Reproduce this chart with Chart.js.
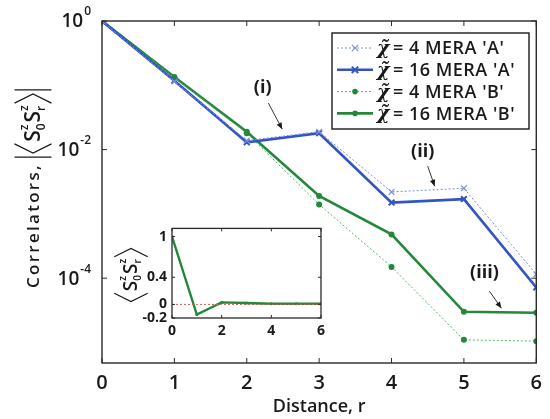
<!DOCTYPE html>
<html><head><meta charset="utf-8">
<script src="https://cdn.jsdelivr.net/npm/chart.js@4"></script>
<style>
html,body{margin:0;padding:0;background:#fff;}
#wrap{position:relative;width:550px;height:419px;}
#main{position:absolute;left:0;top:0;}
#inset{position:absolute;left:110px;top:215px;}
</style></head><body>
<div id="wrap"><canvas id="main" width="550" height="419"></canvas><canvas id="inset" width="220" height="130"></canvas></div>
<script>
// ---- data ----
const distances = [0, 1, 2, 3, 4, 5, 6];
const chi4A  = [1, 0.115, 0.0138, 0.0190, 0.0022, 0.0025, 0.000115];
const chi16A = [1, 0.118, 0.0130, 0.0180, 0.0015, 0.0017, 0.000072];
const chi4B  = [1, 0.130, 0.0180, 0.0014, 0.00015, 0.000011, 0.0000105];
const chi16B = [1, 0.135, 0.0190, 0.0019, 0.00048, 0.000030, 0.000029];
const seriesLabels = ["4 MERA 'A'", "16 MERA 'A'", "4 MERA 'B'", "16 MERA 'B'"];
const yTickValues = [1, 1e-2, 1e-4];
const yTickExponents = ['0', '-2', '-4'];
const xTickValues = [0, 1, 2, 3, 4, 5, 6];
const insetX = [0, 1, 2, 3, 4, 5, 6];
const insetY = [1, -0.15, 0.03, 0.02, 0.01, 0.01, 0.01];
const insetZero = [0, 0, 0, 0, 0, 0, 0];
const insetYTicks = [-0.2, 0, 0.4, 1];
const insetXTicks = [0, 2, 4, 6];
const annotationLabels = ['(i)', '(ii)', '(iii)'];
const annotationText = [[2.22, 0.091], [4.431, 0.0092], [5.284, 1.2e-4]];
const annotationArrowFrom = [[2.298, 0.053], [4.50, 0.00553], [5.353, 6.28e-5]];
const annotationArrowTo = [[2.49, 0.0208], [4.596, 0.0027], [5.518, 3.41e-5]];

const FONT = "'Open Sans', 'DejaVu Sans', sans-serif";
const BLUE = '#3453c4', BLUE_L = '#7d90e0', GREEN = '#23883b', GREEN_L = '#5cb46c';
const INK = '#1a1a1a';

function pts(xs, ys) { return xs.map((x, i) => ({x: x, y: ys[i]})); }

// draw <S0z Srz> group horizontally (in rotated frame), returns width
function drawSS(ctx, u, size, bars, measureOnly) {
  const sF = '600 ' + size + 'px ' + FONT;
  const scF = '600 ' + Math.round(size * 0.55) + 'px ' + FONT;
  const h = size * 0.88;
  const bw = h * 0.5;
  let x = u;
  ctx.save();
  ctx.strokeStyle = INK; ctx.fillStyle = INK; ctx.lineWidth = 1.2;
  if (bars) { if (!measureOnly) { ctx.beginPath(); ctx.moveTo(x, -h); ctx.lineTo(x, h); ctx.stroke(); } x += 4; }
  if (!measureOnly) { ctx.beginPath(); ctx.moveTo(x + bw, -h); ctx.lineTo(x, 0); ctx.lineTo(x + bw, h); ctx.stroke(); }
  x += bw + 2;
  const parts = [['0', 'z'], ['r', 'z']];
  ctx.textBaseline = 'middle'; ctx.textAlign = 'left';
  for (const p of parts) {
    ctx.font = sF;
    if (!measureOnly) ctx.fillText('S', x, 1);
    x += ctx.measureText('S').width;
    ctx.font = scF;
    if (!measureOnly) { ctx.fillText(p[1], x, -size * 0.4); ctx.fillText(p[0], x, size * 0.4); }
    x += Math.max(ctx.measureText(p[0]).width, ctx.measureText(p[1]).width) + 1;
  }
  x += 1;
  if (!measureOnly) { ctx.beginPath(); ctx.moveTo(x, -h); ctx.lineTo(x + bw, 0); ctx.lineTo(x, h); ctx.stroke(); }
  x += bw;
  if (bars) { x += 4; if (!measureOnly) { ctx.beginPath(); ctx.moveTo(x, -h); ctx.lineTo(x, h); ctx.stroke(); } }
  ctx.restore();
  return x - u;
}

const mainDecor = {
  id: 'mainDecor',
  afterDraw(chart) {
    const ctx = chart.ctx, a = chart.chartArea;
    const xs = chart.scales.x, ys = chart.scales.y;
    ctx.save();
    // box
    ctx.strokeStyle = '#2a2a2a'; ctx.lineWidth = 1.4;
    ctx.strokeRect(a.left, a.top, a.right - a.left, a.bottom - a.top);
    // inward ticks
    ctx.lineWidth = 1;
    ctx.beginPath();
    xTickValues.forEach(v => {
      const px = xs.getPixelForValue(v);
      ctx.moveTo(px, a.bottom); ctx.lineTo(px, a.bottom - 5);
      ctx.moveTo(px, a.top); ctx.lineTo(px, a.top + 5);
    });
    yTickValues.forEach(v => {
      const py = ys.getPixelForValue(v);
      ctx.moveTo(a.left, py); ctx.lineTo(a.left + 5, py);
      ctx.moveTo(a.right, py); ctx.lineTo(a.right - 5, py);
    });
    ctx.stroke();
    // y tick labels 10^n
    ctx.fillStyle = INK; ctx.textBaseline = 'middle';
    yTickValues.forEach((v, i) => {
      const py = ys.getPixelForValue(v);
      ctx.font = '600 12px ' + FONT; ctx.textAlign = 'right';
      const ew = ctx.measureText(yTickExponents[i]).width;
      ctx.fillText(yTickExponents[i], 91, py - 9);
      ctx.font = '600 19px ' + FONT;
      ctx.fillText('10', 90 - ew, py + 1);
    });
    // y title
    ctx.save();
    ctx.translate(33, 189); ctx.rotate(-Math.PI / 2);
    ctx.font = '600 17px ' + FONT;
    const t = 'Correlators,';
    ctx.letterSpacing = '0px';
    const w0 = ctx.measureText(t).width;
    const sp = Math.max(0, (125 - w0) / t.length);
    const tw = w0 + sp * t.length;
    const gw = drawSS(ctx, 0, 21, true, true);
    const total = tw + 6 + gw;
    let u = -total / 2;
    ctx.letterSpacing = sp.toFixed(2) + 'px';
    ctx.textAlign = 'left'; ctx.textBaseline = 'middle'; ctx.fillStyle = INK;
    ctx.fillText(t, u, 1);
    ctx.letterSpacing = '0px';
    drawSS(ctx, u + tw + 6, 21, true, false);
    ctx.restore();
    // annotations
    ctx.font = '700 18px ' + FONT; ctx.textAlign = 'center'; ctx.textBaseline = 'middle';
    ctx.strokeStyle = '#333'; ctx.fillStyle = INK; ctx.lineWidth = 1;
    annotationLabels.forEach((lab, i) => {
      ctx.fillText(lab, xs.getPixelForValue(annotationText[i][0]), ys.getPixelForValue(annotationText[i][1]));
      const x0 = xs.getPixelForValue(annotationArrowFrom[i][0]), y0 = ys.getPixelForValue(annotationArrowFrom[i][1]);
      const x1 = xs.getPixelForValue(annotationArrowTo[i][0]), y1 = ys.getPixelForValue(annotationArrowTo[i][1]);
      ctx.beginPath(); ctx.moveTo(x0, y0); ctx.lineTo(x1, y1); ctx.stroke();
      const ang = Math.atan2(y1 - y0, x1 - x0);
      ctx.beginPath();
      ctx.moveTo(x1, y1);
      ctx.lineTo(x1 - 7 * Math.cos(ang - 0.4), y1 - 7 * Math.sin(ang - 0.4));
      ctx.lineTo(x1 - 7 * Math.cos(ang + 0.4), y1 - 7 * Math.sin(ang + 0.4));
      ctx.closePath(); ctx.fill();
    });
    // legend
    const L = {x: 332, y: 33, w: 197, h: 96};
    ctx.fillStyle = '#fff'; ctx.fillRect(L.x, L.y, L.w, L.h);
    ctx.strokeStyle = INK; ctx.lineWidth = 1.4; ctx.strokeRect(L.x, L.y, L.w, L.h);
    const ds = chart.data.datasets;
    ctx.font = '600 18px ' + FONT;
    ctx.letterSpacing = '0px';
    const wRef = ctx.measureText("= " + seriesLabels[3]).width;
    const lsp = Math.max(0, (122 - wRef) / ("= " + seriesLabels[3]).length);
    ds.forEach((d, i) => {
      const yy = L.y + 15 + i * 21.8;
      ctx.save();
      ctx.strokeStyle = d.borderColor; ctx.lineWidth = d.borderWidth;
      ctx.setLineDash(d.borderDash || []);
      ctx.beginPath(); ctx.moveTo(L.x + 5, yy); ctx.lineTo(L.x + 41, yy); ctx.stroke();
      ctx.setLineDash([]);
      const cx = L.x + 23;
      if (d.pointStyle === 'crossRot') {
        ctx.strokeStyle = d.pointBorderColor; ctx.lineWidth = d.pointBorderWidth;
        const r = 3.2;
        ctx.beginPath(); ctx.moveTo(cx - r, yy - r); ctx.lineTo(cx + r, yy + r);
        ctx.moveTo(cx - r, yy + r); ctx.lineTo(cx + r, yy - r); ctx.stroke();
      } else {
        ctx.fillStyle = d.pointBackgroundColor;
        ctx.beginPath(); ctx.arc(cx, yy, 2.8, 0, Math.PI * 2); ctx.fill();
      }
      ctx.restore();
      ctx.fillStyle = INK; ctx.textAlign = 'left'; ctx.textBaseline = 'middle';
      ctx.font = 'italic 600 19px ' + "'DejaVu Serif', serif";
      ctx.fillText('\u03C7\u0303', L.x + 45, yy + 1);
      ctx.font = '600 18px ' + FONT;
      ctx.letterSpacing = lsp.toFixed(2) + 'px';
      ctx.fillText('= ' + seriesLabels[i], L.x + 61, yy + 1);
      ctx.letterSpacing = '0px';
    });
    ctx.restore();
  }
};

new Chart(document.getElementById('main'), {
  type: 'line',
  data: {
    datasets: [
      {data: pts(distances, chi4A), borderColor: BLUE_L, borderWidth: 1, borderDash: [2, 2],
       pointStyle: 'crossRot', pointRadius: 4, pointBorderColor: BLUE_L, pointBorderWidth: 1.2, pointBackgroundColor: BLUE_L},
      {data: pts(distances, chi16A), borderColor: BLUE, borderWidth: 2.6,
       pointStyle: 'crossRot', pointRadius: 4, pointBorderColor: BLUE, pointBorderWidth: 2, pointBackgroundColor: BLUE},
      {data: pts(distances, chi4B), borderColor: GREEN_L, borderWidth: 1, borderDash: [2, 2],
       pointStyle: 'circle', pointRadius: 3, pointBorderColor: GREEN, pointBorderWidth: 0, pointBackgroundColor: GREEN},
      {data: pts(distances, chi16B), borderColor: GREEN, borderWidth: 2.6,
       pointStyle: 'circle', pointRadius: 3, pointBorderColor: GREEN, pointBorderWidth: 0, pointBackgroundColor: GREEN}
    ]
  },
  options: {
    responsive: false, animation: false,
    layout: {padding: {left: 0, right: 11, top: 21, bottom: 0}},
    plugins: {legend: {display: false}, tooltip: {enabled: false}},
    scales: {
      x: {type: 'linear', min: 0, max: 6,
          afterBuildTicks: s => { s.ticks = xTickValues.map(v => ({value: v})); },
          afterFit: s => { s.height = 56; },
          grid: {display: false, drawTicks: false}, border: {display: false},
          ticks: {padding: 8, color: INK, font: {family: FONT, size: 20, weight: '600'}},
          title: {display: true, text: 'Distance, r', color: INK, padding: {top: 2, bottom: 1},
                  font: {family: FONT, size: 18, weight: '600'}}},
      y: {type: 'logarithmic', min: 4.8e-6, max: 1,
          afterBuildTicks: s => { s.ticks = yTickValues.map(v => ({value: v})); },
          afterFit: s => { s.width = 102; },
          grid: {display: false, drawTicks: false}, border: {display: false},
          ticks: {display: false}}
    }
  },
  plugins: [mainDecor]
});

const insetDecor = {
  id: 'insetDecor',
  beforeDraw(chart) {
    const ctx = chart.ctx, a = chart.chartArea;
    ctx.save(); ctx.fillStyle = '#fff'; ctx.fillRect(a.left, a.top, a.right - a.left, a.bottom - a.top); ctx.restore();
  },
  afterDraw(chart) {
    const ctx = chart.ctx, a = chart.chartArea;
    const xs = chart.scales.x, ys = chart.scales.y;
    ctx.save();
    ctx.strokeStyle = '#2a2a2a'; ctx.lineWidth = 1.3;
    ctx.strokeRect(a.left, a.top, a.right - a.left, a.bottom - a.top);
    ctx.lineWidth = 1;
    ctx.beginPath();
    insetXTicks.forEach(v => {
      const px = xs.getPixelForValue(v);
      ctx.moveTo(px, a.bottom); ctx.lineTo(px, a.bottom - 3);
      ctx.moveTo(px, a.top); ctx.lineTo(px, a.top + 3);
    });
    insetYTicks.forEach(v => {
      const py = ys.getPixelForValue(v);
      ctx.moveTo(a.left, py); ctx.lineTo(a.left + 3, py);
      ctx.moveTo(a.right, py); ctx.lineTo(a.right - 3, py);
    });
    ctx.stroke();
    ctx.translate(21, 60); ctx.rotate(-Math.PI / 2);
    const gw = drawSS(ctx, 0, 19, false, true);
    drawSS(ctx, -gw / 2, 19, false, false);
    ctx.restore();
  }
};

new Chart(document.getElementById('inset'), {
  type: 'line',
  data: {
    datasets: [
      {data: pts(insetX, insetZero), borderColor: '#e05a5a', borderWidth: 1, borderDash: [2, 2], pointRadius: 0},
      {data: pts(insetX, insetY), borderColor: GREEN, borderWidth: 2.4, pointRadius: 1.5,
       pointBackgroundColor: GREEN, pointBorderWidth: 0}
    ]
  },
  options: {
    responsive: false, animation: false,
    layout: {padding: {left: 0, right: 9, top: 8, bottom: 0}},
    plugins: {legend: {display: false}, tooltip: {enabled: false}},
    scales: {
      x: {type: 'linear', min: 0, max: 6,
          afterBuildTicks: s => { s.ticks = insetXTicks.map(v => ({value: v})); },
          afterFit: s => { s.height = 27; },
          grid: {display: false, drawTicks: false}, border: {display: false},
          ticks: {padding: 5, color: INK, font: {family: FONT, size: 14, weight: '700'}}},
      y: {type: 'linear', min: -0.2, max: 1.12,
          afterBuildTicks: s => { s.ticks = insetYTicks.map(v => ({value: v})); },
          afterFit: s => { s.width = 62; },
          grid: {display: false, drawTicks: false}, border: {display: false},
          ticks: {padding: 5, color: INK, font: {family: FONT, size: 14, weight: '700'},
                  callback: v => String(v)}}
    }
  },
  plugins: [insetDecor]
});
</script>
</body></html>
